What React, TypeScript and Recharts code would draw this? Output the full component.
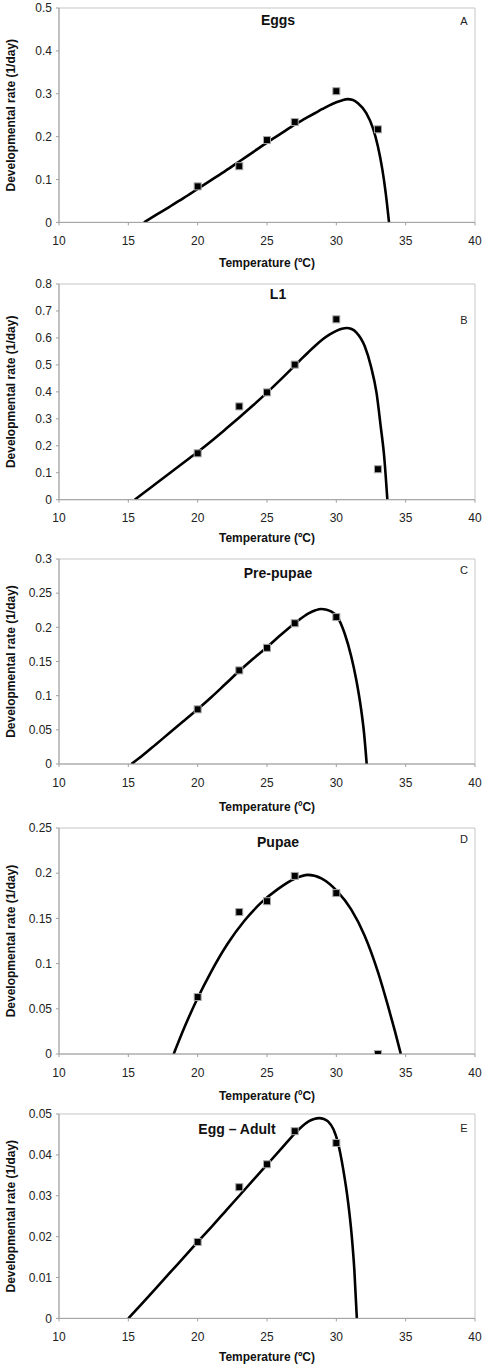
import React from "react";
import {
  ComposedChart, Line, Scatter, XAxis, YAxis, ReferenceArea,
} from "recharts";

// ── Data ───────────────────────────────────────────────────

const tempTicks = [10, 15, 20, 25, 30, 35, 40];

// A – Eggs
const eggsObsT = [20, 23, 25, 27, 30, 33];
const eggsObsRate = [0.084, 0.131, 0.192, 0.234, 0.306, 0.217];
const eggsFitT = [16.13, 17, 18, 19, 20, 21, 22, 23, 24, 25, 26, 27, 27.5, 28, 28.5, 29, 29.5, 30, 30.4, 30.8, 31.2, 31.56, 32.16, 32.64, 33.0, 33.32, 33.56, 33.8];
const eggsFitRate = [0, 0.0175, 0.037, 0.057, 0.078, 0.099, 0.12, 0.142, 0.164, 0.186, 0.207, 0.228, 0.2375, 0.2465, 0.2555, 0.2645, 0.273, 0.28, 0.2845, 0.2875, 0.2855, 0.278, 0.255, 0.22, 0.177, 0.123, 0.069, 0];
const eggsTicks = [0, 0.1, 0.2, 0.3, 0.4, 0.5];

// B – L1
const l1ObsT = [20, 23, 25, 27, 30, 33];
const l1ObsRate = [0.172, 0.346, 0.398, 0.501, 0.669, 0.113];
const l1FitT = [15.46, 16, 17, 18, 19, 20, 21, 22, 23, 24, 25, 26, 27, 27.5, 28, 28.5, 29, 29.5, 30, 30.4, 30.75, 31.1, 31.45, 32.05, 32.5, 32.9, 33.2, 33.45, 33.68];
const l1FitRate = [0, 0.021, 0.06, 0.099, 0.138, 0.177, 0.218, 0.261, 0.305, 0.35, 0.397, 0.446, 0.497, 0.523, 0.548, 0.572, 0.594, 0.612, 0.626, 0.634, 0.637, 0.633, 0.62, 0.569, 0.494, 0.396, 0.272, 0.161, 0];
const l1Ticks = [0, 0.1, 0.2, 0.3, 0.4, 0.5, 0.6, 0.7, 0.8];

// C – Pre-pupae
const prepupaeObsT = [20, 23, 25, 27, 30];
const prepupaeObsRate = [0.08, 0.137, 0.17, 0.206, 0.215];
const prepupaeFitT = [15.22, 16, 17, 18, 19, 20, 21, 22, 23, 24, 25, 26, 27, 28, 28.5, 28.9, 29.3, 29.65, 30.07, 30.6, 31.08, 31.44, 31.76, 32.0, 32.19];
const prepupaeFitRate = [0, 0.012, 0.029, 0.046, 0.063, 0.08, 0.098, 0.117, 0.136, 0.154, 0.171, 0.189, 0.206, 0.2205, 0.225, 0.2268, 0.2258, 0.2229, 0.2156, 0.191, 0.157, 0.123, 0.084, 0.045, 0];
const prepupaeTicks = [0, 0.05, 0.1, 0.15, 0.2, 0.25, 0.3];

// D – Pupae
const pupaeObsT = [20, 23, 25, 27, 30, 33];
const pupaeObsRate = [0.063, 0.157, 0.169, 0.197, 0.178, 0];
const pupaeFitT = [18.27, 19.04, 20, 20.96, 22.17, 23.37, 24.58, 25.78, 26.99, 27.95, 28.92, 30.07, 31.08, 32.05, 33.01, 33.73, 34.22, 34.65];
const pupaeFitRate = [0, 0.0293, 0.0619, 0.0907, 0.1222, 0.1474, 0.1674, 0.1824, 0.1939, 0.1982, 0.1943, 0.1799, 0.1597, 0.1306, 0.0903, 0.0529, 0.0255, 0];
const pupaeTicks = [0, 0.05, 0.1, 0.15, 0.2, 0.25];

// E – Egg – Adult
const adultObsT = [20, 23, 25, 27, 30];
const adultObsRate = [0.0187, 0.0321, 0.0377, 0.0458, 0.0429];
const adultFitT = [15, 16, 17, 18, 19, 20, 21, 22, 23, 24, 25, 26, 27, 27.5, 28, 28.4, 28.75, 29.1, 29.4, 29.8, 30.1, 30.5, 30.85, 31.1, 31.3, 31.48];
const adultFitRate = [0, 0.0037, 0.0074, 0.0112, 0.0149, 0.0187, 0.0224, 0.0262, 0.03, 0.0338, 0.0376, 0.0414, 0.0452, 0.0469, 0.0482, 0.0488, 0.049, 0.0488, 0.0482, 0.0462, 0.0432, 0.0364, 0.0284, 0.0206, 0.0118, 0];
const adultTicks = [0, 0.01, 0.02, 0.03, 0.04, 0.05];

// ── Helpers ────────────────────────────────────────────────

const FONT = '"Liberation Sans", Arial, sans-serif';
const W = 486;
const TOP_PAD = 10;
const X_AXIS_H = 50;

function zip(t: number[], r: number[]) {
  return t.map((v, i) => ({ t: v, rate: r[i] }));
}

function Square(props: any) {
  const { cx, cy } = props;
  if (cx == null || cy == null) return null;
  return <rect x={cx - 3.5} y={cy - 3.5} width={7} height={7} fill="#000" stroke="#a8a8a8" strokeWidth={1} />;
}

interface PanelProps {
  plotTop: number;
  plotBottom: number;
  labelBase: number;
  title: string;
  titleX: number;
  titleY: number;
  letter: string;
  letterY: number;
  yTicks: number[];
  fit: { t: number; rate: number }[];
  obs: { t: number; rate: number }[];
}

function Panel(p: PanelProps) {
  const plotH = p.plotBottom - p.plotTop;
  const height = TOP_PAD + plotH + X_AXIS_H;
  const top = p.plotTop - TOP_PAD;
  const yMax = p.yTicks[p.yTicks.length - 1];
  return (
    <>
      <div style={{ position: "absolute", left: 0, top, width: W, height }}>
        <ComposedChart width={W} height={height} margin={{ top: TOP_PAD, right: 11, bottom: 0, left: 0 }}>
          <ReferenceArea x1={10} x2={40} y1={0} y2={yMax} fill="none" stroke="#c6c6c6" strokeWidth={1} />
          <XAxis
            type="number" dataKey="t" domain={[10, 40]} ticks={tempTicks} height={X_AXIS_H}
            stroke="#a0a0a0" tickSize={3} tickMargin={11}
            tick={{ fontSize: 12, fill: "#222", fontFamily: FONT }}
            allowDataOverflow
            label={{ value: "Temperature (ºC)", position: "insideBottom", offset: X_AXIS_H - p.labelBase, fill: "#111", fontSize: 12, fontWeight: 700, fontFamily: FONT }}
          />
          <YAxis
            type="number" dataKey="rate" domain={[0, yMax]} ticks={p.yTicks} width={59}
            stroke="#a0a0a0" tickSize={3} tickMargin={4}
            tick={{ fontSize: 12, fill: "#222", fontFamily: FONT }}
            allowDataOverflow
            label={{ value: "Developmental rate (1/day)", angle: -90, position: "insideLeft", offset: 11, textAnchor: "middle", fill: "#111", fontSize: 12, fontWeight: 700, fontFamily: FONT }}
          />
          <Line data={p.fit} dataKey="rate" type="monotone" stroke="#000" strokeWidth={2.6} dot={false} isAnimationActive={false} />
          <Scatter data={p.obs} dataKey="rate" shape={Square} isAnimationActive={false} />
        </ComposedChart>
      </div>
      <div style={{ position: "absolute", left: p.titleX, top: p.titleY, transform: "translate(-50%, -50%)", fontFamily: FONT, fontWeight: 700, fontSize: 14, lineHeight: 1, whiteSpace: "nowrap", color: "#111" }}>
        {p.title}
      </div>
      <div style={{ position: "absolute", left: 464, top: p.letterY, transform: "translate(-50%, -50%)", fontFamily: FONT, fontSize: 11, lineHeight: 1, color: "#222" }}>
        {p.letter}
      </div>
    </>
  );
}

// ── Component ──────────────────────────────────────────────

export default function App() {
  return (
    <div style={{ position: "absolute", left: 0, top: 0, width: W, height: 1369, background: "#fff", overflow: "hidden" }}>
      <Panel plotTop={8.3} plotBottom={222.7} labelBase={44.5} title="Eggs" titleX={278} titleY={20} letter="A" letterY={20.7}
        yTicks={eggsTicks} fit={zip(eggsFitT, eggsFitRate)} obs={zip(eggsObsT, eggsObsRate)} />
      <Panel plotTop={284.3} plotBottom={500} labelBase={42.5} title="L1" titleX={278} titleY={294} letter="B" letterY={320}
        yTicks={l1Ticks} fit={zip(l1FitT, l1FitRate)} obs={zip(l1ObsT, l1ObsRate)} />
      <Panel plotTop={559} plotBottom={764} labelBase={47} title="Pre-pupae" titleX={278} titleY={573} letter="C" letterY={570}
        yTicks={prepupaeTicks} fit={zip(prepupaeFitT, prepupaeFitRate)} obs={zip(prepupaeObsT, prepupaeObsRate)} />
      <Panel plotTop={828} plotBottom={1054} labelBase={46} title="Pupae" titleX={278} titleY={842} letter="D" letterY={839}
        yTicks={pupaeTicks} fit={zip(pupaeFitT, pupaeFitRate)} obs={zip(pupaeObsT, pupaeObsRate)} />
      <Panel plotTop={1114.3} plotBottom={1318.7} labelBase={43} title="Egg – Adult" titleX={237} titleY={1129} letter="E" letterY={1128}
        yTicks={adultTicks} fit={zip(adultFitT, adultFitRate)} obs={zip(adultObsT, adultObsRate)} />
    </div>
  );
}
